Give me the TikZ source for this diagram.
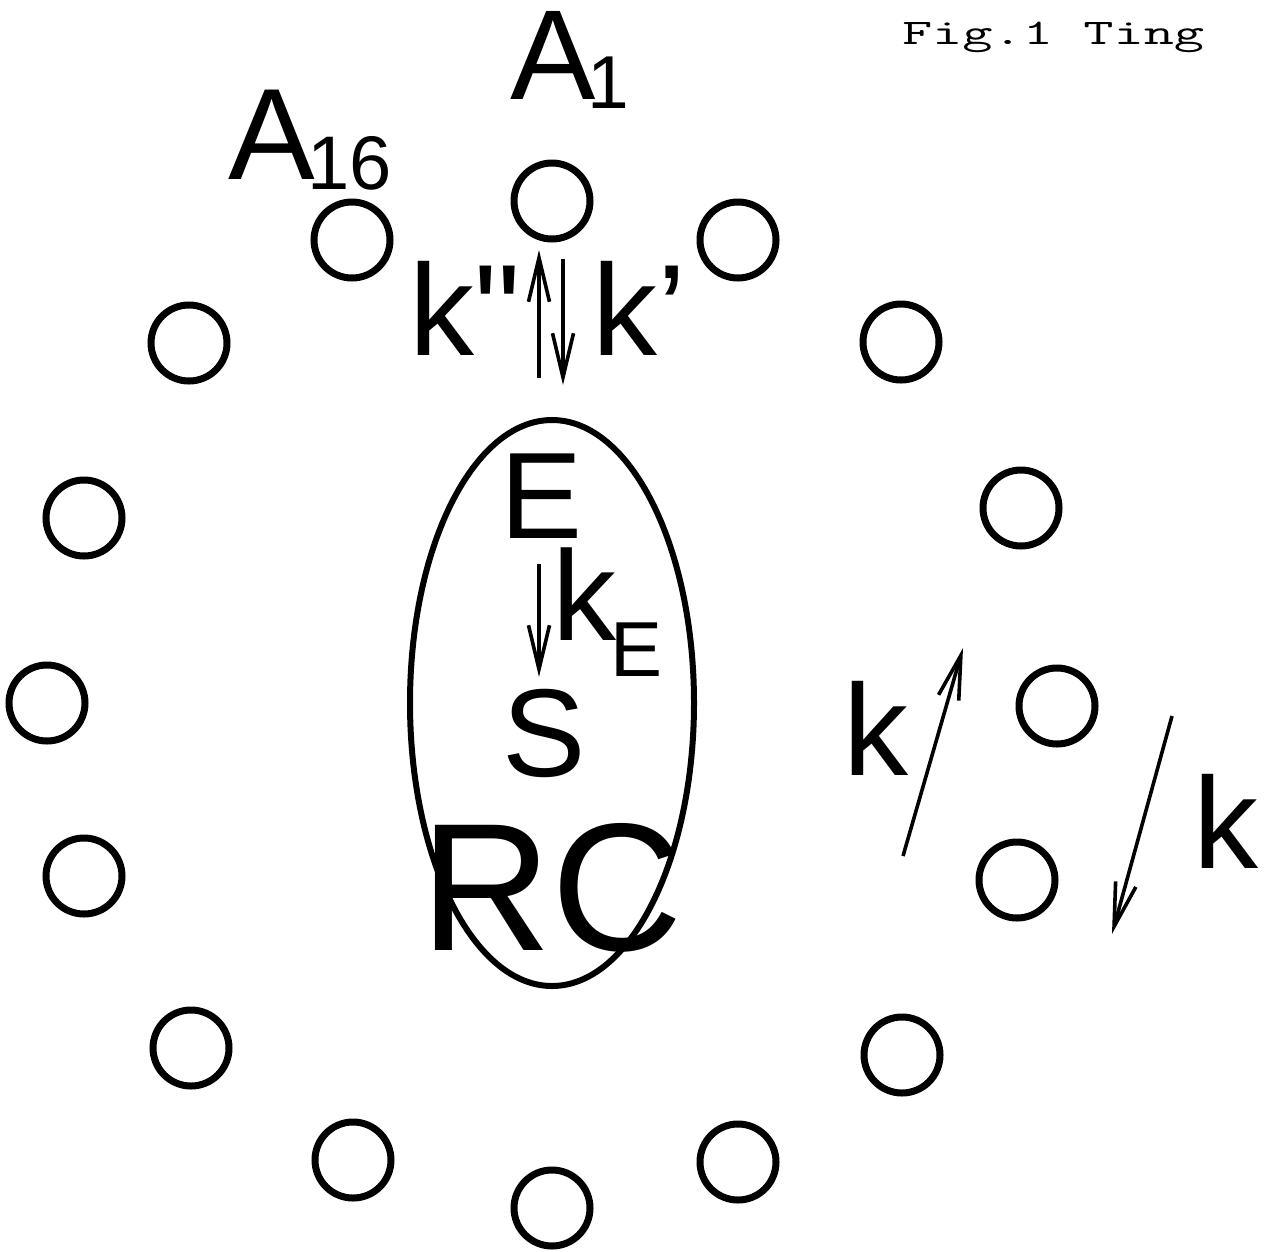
\documentclass[tikz,border=0pt]{standalone}
\usepackage{fontspec}
\setmainfont{Liberation Sans}[Ligatures=TeXOff]
\usetikzlibrary{arrows.meta,shapes.geometric}
\tikzset{
  ring/.style={circle, draw, line width=7pt, minimum size=76pt, inner sep=0pt},
  lbl/.style={anchor=base west, inner sep=0pt, outer sep=0pt},
  rate/.style={line width=3.6pt, -{Straight Barb[length=44pt,width=21pt,line width=3.6pt]}},
}
\begin{document}
\begin{tikzpicture}[x=1pt,y=-1pt]
\useasboundingbox (0,0) rectangle (1266,1251);
% ring of antenna pigments
\node[ring] (c1) at (552,201) {};
\node[ring] (c2) at (738,240) {};
\node[ring] (c3) at (901,342) {};
\node[ring] (c4) at (1021,508) {};
\node[ring] (c5) at (1057,706) {};
\node[ring] (c6) at (1017,880) {};
\node[ring] (c7) at (902,1055) {};
\node[ring] (c8) at (738,1162) {};
\node[ring] (c9) at (552,1208) {};
\node[ring] (c10) at (353,1160) {};
\node[ring] (c11) at (191,1048) {};
\node[ring] (c12) at (84,876) {};
\node[ring] (c13) at (47,703) {};
\node[ring] (c14) at (84,518) {};
\node[ring] (c15) at (189,343) {};
\node[ring] (c16) at (352,240) {};
% reaction centre
\node[ellipse, draw, line width=6pt, minimum width=284pt, minimum height=566pt, inner sep=0pt] (rc) at (552,703) {};
% labels
\node[lbl] (a1) at (510,99) {\fontsize{128}{128}\selectfont A\kern-8pt\raisebox{-9pt}{\fontsize{75}{75}\selectfont 1}};
\node[lbl] (a16) at (228,179) {\fontsize{130}{130}\selectfont A\kern-7pt\raisebox{-10pt}{\fontsize{76}{76}\selectfont 16}};
\node[lbl] (kpp) at (409,355) {\fontsize{130}{130}\selectfont k"};
\node[lbl] (kp) at (592,355) {\fontsize{130}{130}\selectfont k’};
\node[lbl] (e) at (500,538) {\fontsize{123}{123}\selectfont E};
\node[lbl] (ke) at (552,640) {\fontsize{128}{128}\selectfont k\kern-6pt\raisebox{-36pt}{\fontsize{78}{78}\selectfont E}};
\node[lbl] (s) at (502,776) {\fontsize{125}{125}\selectfont S};
\node[lbl] (rcl) at (420,950) {\fontsize{182}{182}\selectfont RC};
\node[lbl] (k1) at (843,775) {\fontsize{130}{130}\selectfont k};
\node[lbl] (k2) at (1193,868) {\fontsize{130}{130}\selectfont k};
\node[lbl] (fig) at (902,44) {\scalebox{1.63}[1]{\ttfamily\fontsize{36}{36}\selectfont Fig.1 Ting}};
% arrow end points
\coordinate (u0) at (539,378); \coordinate (u1) at (539,250);
\coordinate (d0) at (563,259); \coordinate (d1) at (563,385);
\coordinate (e0) at (539,564); \coordinate (e1) at (539,677);
\coordinate (r0) at (903,856); \coordinate (r1) at (963,648);
\coordinate (q0) at (1172,716); \coordinate (q1) at (1112,934);
\draw[rate] (u0) -- (u1);
\draw[rate] (d0) -- (d1);
\draw[rate] (e0) -- (e1);
\draw[rate] (r0) -- (r1);
\draw[rate] (q0) -- (q1);
\end{tikzpicture}
\end{document}
